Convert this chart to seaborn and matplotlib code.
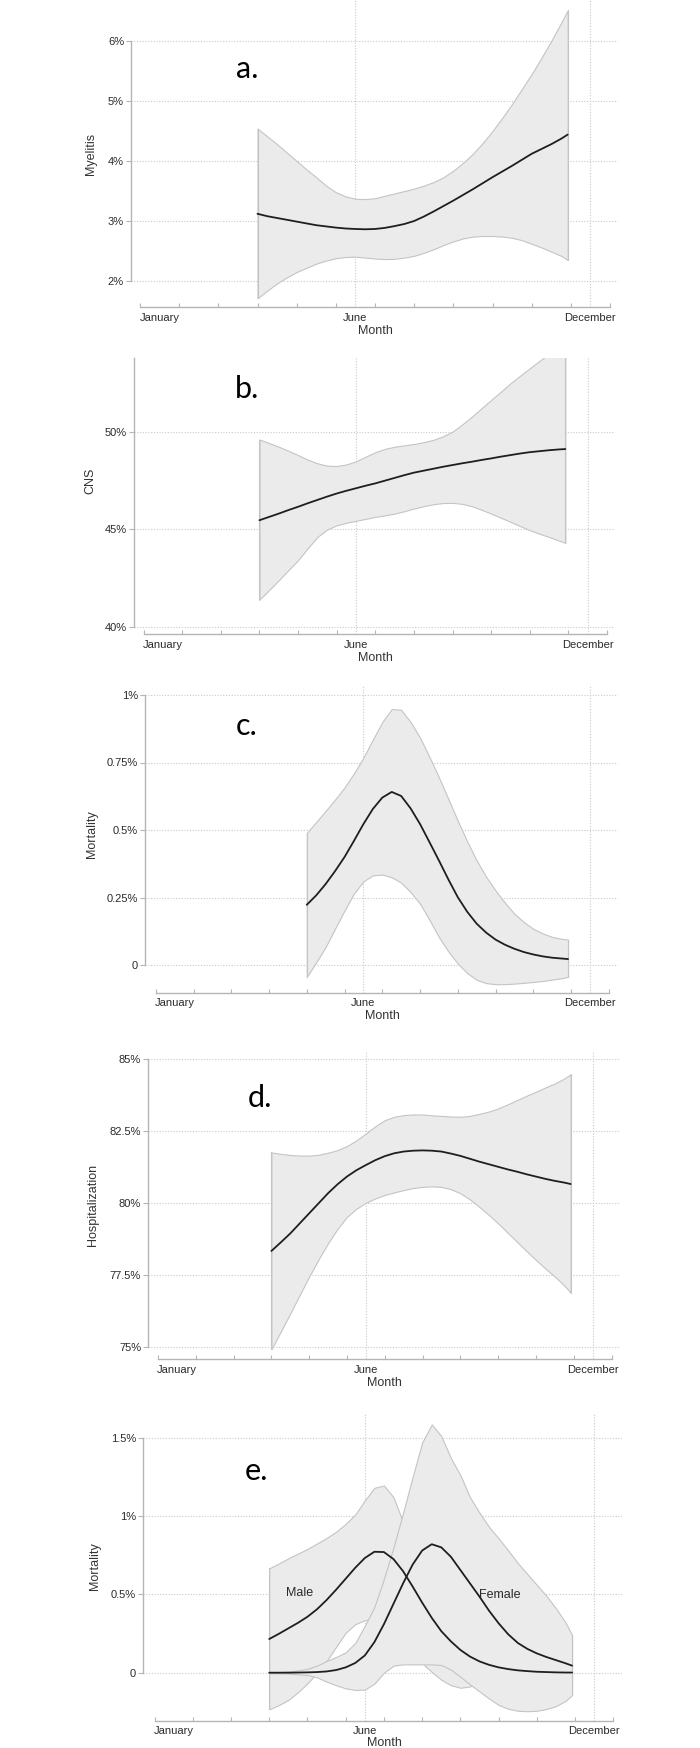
import matplotlib
matplotlib.use("Agg")
import matplotlib.pyplot as plt
import numpy as np
import pandas as pd
import seaborn as sns
from matplotlib.ticker import FixedLocator, FuncFormatter

# ---------------- data (values in percent) ----------------
month_tick_labels = ["January", "June", "December"]
month_label_pos = [0.5, 5.5, 11.5]
month_bounds = [0, 1, 2, 3, 4, 5, 6, 7, 8, 9, 10, 11, 12]

x_apr = [3, 3.25, 3.5, 3.75, 4, 4.25, 4.5, 4.75, 5, 5.25, 5.5, 5.75, 6, 6.25, 6.5, 6.75,
         7, 7.25, 7.5, 7.75, 8, 8.25, 8.5, 8.75, 9, 9.25, 9.5, 9.75, 10, 10.25, 10.5, 10.75, 10.92]
x_may = [4, 4.25, 4.5, 4.75, 5, 5.25, 5.5, 5.75, 6, 6.25, 6.5, 6.75,
         7, 7.25, 7.5, 7.75, 8, 8.25, 8.5, 8.75, 9, 9.25, 9.5, 9.75, 10, 10.25, 10.5, 10.75, 10.92]

# a. Myelitis
a_mean = [3.12, 3.08, 3.05, 3.02, 2.99, 2.96, 2.93, 2.91, 2.89, 2.875, 2.867, 2.862, 2.867, 2.885, 2.915, 2.95,
          3.0, 3.075, 3.16, 3.25, 3.34, 3.435, 3.53, 3.63, 3.73, 3.825, 3.92, 4.02, 4.12, 4.2, 4.28, 4.37, 4.44]
a_upper = [4.54, 4.41, 4.28, 4.14, 4.0, 3.86, 3.73, 3.59, 3.48, 3.41, 3.37, 3.365, 3.38, 3.42, 3.46, 3.50,
           3.54, 3.59, 3.65, 3.73, 3.84, 3.97, 4.12, 4.3, 4.5, 4.72, 4.95, 5.2, 5.45, 5.72, 6.0, 6.3, 6.51]
a_lower = [1.71, 1.84, 1.96, 2.06, 2.15, 2.22, 2.29, 2.34, 2.38, 2.40, 2.405, 2.39, 2.375, 2.365, 2.37, 2.39,
           2.42, 2.47, 2.53, 2.6, 2.66, 2.71, 2.74, 2.75, 2.75, 2.74, 2.72, 2.68, 2.62, 2.56, 2.49, 2.42, 2.35]
a_yticks = [2, 3, 4, 5, 6]

# b. CNS
b_mean = [45.46, 45.63, 45.8, 45.98, 46.15, 46.33, 46.5, 46.67, 46.83, 46.97, 47.1, 47.23, 47.35, 47.49, 47.63, 47.77,
          47.9, 48.0, 48.1, 48.2, 48.29, 48.38, 48.46, 48.55, 48.63, 48.72, 48.8, 48.88, 48.95, 49.0, 49.05, 49.09, 49.11]
b_upper = [49.6, 49.42, 49.23, 49.02, 48.8, 48.57, 48.38, 48.26, 48.24, 48.32, 48.48, 48.72, 48.95, 49.12, 49.23, 49.3,
           49.37, 49.46, 49.58, 49.76, 50.0, 50.37, 50.77, 51.2, 51.63, 52.05, 52.48, 52.87, 53.25, 53.63, 54.0, 54.35, 54.6]
b_lower = [41.39, 41.88, 42.38, 42.9, 43.41, 44.02, 44.6, 44.98, 45.2, 45.33, 45.43, 45.53, 45.63, 45.71, 45.8, 45.92,
           46.06, 46.18, 46.28, 46.34, 46.35, 46.3, 46.18, 46.0, 45.8, 45.59, 45.38, 45.16, 44.95, 44.77, 44.6, 44.42, 44.3]
b_yticks = [40, 45, 50]

# c. Mortality
c_mean = [0.223, 0.258, 0.30, 0.348, 0.40, 0.46, 0.522, 0.578, 0.62, 0.641, 0.626, 0.58,
          0.522, 0.455, 0.387, 0.317, 0.251, 0.197, 0.153, 0.12, 0.094, 0.075, 0.06, 0.048, 0.039, 0.032, 0.027, 0.024, 0.022]
c_upper = [0.489, 0.53, 0.571, 0.613, 0.658, 0.71, 0.768, 0.835, 0.9, 0.948, 0.945, 0.9,
           0.842, 0.77, 0.695, 0.615, 0.534, 0.457, 0.387, 0.327, 0.276, 0.23, 0.19, 0.159, 0.134, 0.117, 0.104, 0.097, 0.094]
c_lower = [-0.044, 0.01, 0.067, 0.135, 0.202, 0.265, 0.31, 0.332, 0.335, 0.325, 0.305, 0.27,
           0.227, 0.167, 0.103, 0.05, 0.005, -0.03, -0.055, -0.067, -0.071, -0.071, -0.069, -0.066, -0.063, -0.059, -0.054, -0.049, -0.044]
c_yticks = [0, 0.25, 0.5, 0.75, 1]

# d. Hospitalization
d_mean = [78.33, 78.63, 78.94, 79.29, 79.64, 79.99, 80.34, 80.65, 80.92, 81.14, 81.32, 81.49, 81.63, 81.73, 81.79, 81.82,
          81.83, 81.82, 81.79, 81.72, 81.64, 81.54, 81.44, 81.35, 81.26, 81.17, 81.09, 81.0, 80.92, 80.84, 80.77, 80.71, 80.66]
d_upper = [81.76, 81.71, 81.67, 81.65, 81.65, 81.68, 81.75, 81.84, 81.98, 82.18, 82.42, 82.67, 82.88, 83.0, 83.06, 83.08,
           83.08, 83.05, 83.03, 83.01, 83.0, 83.03, 83.1, 83.18, 83.29, 83.43, 83.58, 83.73, 83.87, 84.02, 84.16, 84.33, 84.48]
d_lower = [74.91, 75.53, 76.16, 76.8, 77.44, 78.04, 78.6, 79.1, 79.52, 79.8, 80.01, 80.16, 80.28, 80.37, 80.45, 80.52,
           80.56, 80.58, 80.56, 80.48, 80.34, 80.13, 79.87, 79.59, 79.29, 78.97, 78.65, 78.33, 78.02, 77.72, 77.44, 77.13, 76.88]
d_yticks = [75, 77.5, 80, 82.5, 85]

# e. Mortality by sex
e_male_mean = [0.215, 0.248, 0.283, 0.318, 0.357, 0.405, 0.464, 0.53, 0.60, 0.67, 0.732, 0.772, 0.77, 0.725, 0.648, 0.55,
               0.447, 0.35, 0.265, 0.2, 0.145, 0.103, 0.072, 0.05, 0.034, 0.023, 0.015, 0.01, 0.006, 0.004, 0.002, 0.001, 0.001]
e_male_upper = [0.666, 0.697, 0.73, 0.76, 0.79, 0.825, 0.86, 0.90, 0.95, 1.01, 1.10, 1.18, 1.195, 1.12, 0.96, 0.8,
                0.68, 0.56, 0.45, 0.35, 0.27, 0.2, 0.14, 0.1, 0.07, 0.05, 0.035, 0.024, 0.015, 0.01, 0.006, 0.004, 0.003]
e_male_lower = [-0.234, -0.207, -0.174, -0.125, -0.068, 0.0, 0.075, 0.165, 0.255, 0.31, 0.335, 0.345, 0.315, 0.25, 0.187, 0.12,
                0.06, 0.005, -0.045, -0.08, -0.096, -0.088, -0.05, -0.015, 0.0, 0.0, 0.0, 0.0, 0.0, 0.0, 0.0, 0.0, 0.0]
e_female_mean = [0.0, 0.0, 0.0, 0.001, 0.002, 0.004, 0.008, 0.017, 0.034, 0.062, 0.11, 0.195, 0.31, 0.44, 0.57, 0.69,
                 0.78, 0.82, 0.80, 0.74, 0.655, 0.57, 0.485, 0.395, 0.315, 0.245, 0.19, 0.152, 0.123, 0.1, 0.08, 0.06, 0.045]
e_female_upper = [0.003, 0.005, 0.008, 0.014, 0.025, 0.045, 0.075, 0.1, 0.13, 0.19, 0.3, 0.42, 0.6, 0.8, 1.02, 1.25,
                  1.47, 1.585, 1.51, 1.37, 1.26, 1.12, 1.02, 0.93, 0.857, 0.78, 0.70, 0.63, 0.56, 0.49, 0.41, 0.32, 0.24]
e_female_lower = [-0.003, -0.004, -0.006, -0.01, -0.015, -0.03, -0.057, -0.08, -0.1, -0.11, -0.108, -0.07, 0.0, 0.045, 0.053, 0.053,
                  0.053, 0.053, 0.049, 0.02, -0.026, -0.075, -0.12, -0.165, -0.206, -0.23, -0.243, -0.246, -0.243, -0.232, -0.213, -0.18, -0.143]
e_yticks = [0, 0.5, 1, 1.5]

# ---------------- style ----------------
sns.set_style("white")
plt.rcParams["font.family"] = ["Liberation Sans", "DejaVu Sans"]

W, H = 700, 1748
fig = plt.figure(figsize=(W / 100, H / 100), dpi=100)

BAND = "#ebebeb"
BAND_EDGE = "#c4c4c4"
LINE = "#1e1e1e"
GRID = "#c9c9c9"
AXIS = "#b5b5b5"
TXT = "#2a2a2a"


def fmt_pct(v, _=None):
    if abs(v) < 1e-9:
        return "0"
    return ("%g" % v) + "%"


def make_axes(geo):
    left, right, top, bottom = geo["left"], geo["right"], geo["top"], geo["bottom"]
    ax = fig.add_axes([left / W, 1 - bottom / H, (right - left) / W, (bottom - top) / H])
    unit = (geo["xr"] - geo["xl"]) / 12.0
    ax.set_xlim(-(geo["xl"] - left) / unit, 12 + (right - geo["xr"]) / unit)
    y0, py0, y1, py1 = geo["ycal"]
    scale = (py0 - py1) / (y1 - y0)  # px per unit
    ax.set_ylim(y0 - (bottom - py0) / scale, y0 + (py0 - top) / scale)
    return ax


def style_axes(ax, geo, yticks, ylabel, ytop_bound):
    for s in ["top", "right"]:
        ax.spines[s].set_visible(False)
    for s in ["left", "bottom"]:
        ax.spines[s].set_color(AXIS)
        ax.spines[s].set_linewidth(1.0)
    ax.spines["left"].set_bounds(yticks[0], ytop_bound)
    ax.spines["bottom"].set_bounds(0, 12)
    ax.set_yticks(yticks)
    ax.yaxis.set_major_formatter(FuncFormatter(fmt_pct))
    ax.tick_params(axis="y", which="major", direction="out", length=3.5, width=0.8,
                   color=AXIS, labelsize=8, labelcolor=TXT, pad=1.5, left=True)
    ax.xaxis.set_major_locator(FixedLocator(month_label_pos))
    ax.set_xticklabels(month_tick_labels)
    ax.xaxis.set_minor_locator(FixedLocator(month_bounds))
    ax.tick_params(axis="x", which="major", length=0, labelsize=8, labelcolor=TXT, pad=4)
    ax.tick_params(axis="x", which="minor", direction="in", length=3, width=0.8,
                   color=AXIS, bottom=True)
    ax.grid(False)
    for yt in yticks:
        ax.axhline(yt, color=GRID, lw=0.8, ls=(0, (1, 1.5)), zorder=0.5)
    for xv in [5.5, 11.5]:
        ax.axvline(xv, color=GRID, lw=0.8, ls=(0, (1, 1.5)), zorder=0.5)
    L, R, T, B = geo["left"], geo["right"], geo["top"], geo["bottom"]
    ax.set_ylabel(ylabel, fontsize=9, color="#333333")
    ax.yaxis.label.set_va("center")
    ax.yaxis.set_label_coords((geo["ylab"][0] - L) / (R - L), (B - geo["ylab"][1]) / (B - T))
    ax.set_xlabel("Month", fontsize=9, color="#333333")
    ax.xaxis.label.set_va("center")
    ax.xaxis.set_label_coords((geo["xlab"][0] - L) / (R - L), (B - geo["xlab"][1]) / (B - T))


def band(ax, x, lo, hi):
    ax.fill_between(x, lo, hi, facecolor=BAND, edgecolor=BAND_EDGE, linewidth=0.8, zorder=2)
    ax.plot([x[0], x[0]], [lo[0], hi[0]], color=BAND_EDGE, lw=0.8, zorder=2.1)
    ax.plot([x[-1], x[-1]], [lo[-1], hi[-1]], color=BAND_EDGE, lw=0.8, zorder=2.1)


def panel_label(txt, px, py):
    fig.text(px / W, 1 - py / H, txt, fontsize=22, family=["Lato", "DejaVu Sans"],
             ha="left", va="baseline", color="#000000")


geos = {
    "a": dict(left=131, right=618, top=0, bottom=307, xl=140, xr=610,
              ycal=(2, 281, 6, 41), ylab=(91, 154), xlab=(375, 331.5)),
    "b": dict(left=134, right=615, top=358, bottom=634, xl=143.6, xr=607,
              ycal=(40, 626.7, 50, 431.7), ylab=(90, 481), xlab=(375, 658)),
    "c": dict(left=145, right=618, top=685, bottom=992.7, xl=155.8, xr=608.8,
              ycal=(0, 965, 1, 695), ylab=(92, 834), xlab=(382, 1016)),
    "d": dict(left=148, right=620, top=1050.7, bottom=1359.3, xl=158, xr=611.5,
              ycal=(75, 1346.7, 85, 1059.3), ylab=(93, 1205), xlab=(384, 1382.7)),
    "e": dict(left=143, right=622, top=1412.7, bottom=1720.7, xl=154.5, xr=613.4,
              ycal=(0, 1672.7, 1.5, 1437.7), ylab=(95, 1566), xlab=(384, 1743)),
}

single = [
    ("a", x_apr, a_mean, a_lower, a_upper, a_yticks, "Myelitis", None),
    ("b", x_apr, b_mean, b_lower, b_upper, b_yticks, "CNS", "top"),
    ("c", x_may, c_mean, c_lower, c_upper, c_yticks, "Mortality", None),
    ("d", x_apr, d_mean, d_lower, d_upper, d_yticks, "Hospitalization", None),
]

for key, x, m, lo, hi, yt, ylab, topmode in single:
    g = geos[key]
    ax = make_axes(g)
    band(ax, x, lo, hi)
    df = pd.DataFrame({"month": x, "value": m})
    sns.lineplot(data=df, x="month", y="value", ax=ax, color=LINE, lw=1.3, zorder=3,
                 estimator=None, sort=False)
    ytop = ax.get_ylim()[1] if topmode == "top" else yt[-1]
    style_axes(ax, g, yt, ylab, ytop)

# panel e
g = geos["e"]
ax = make_axes(g)
band(ax, x_apr, e_male_lower, e_male_upper)
band(ax, x_apr, e_female_lower, e_female_upper)
df_e = pd.DataFrame({
    "month": x_apr + x_apr,
    "value": e_male_mean + e_female_mean,
    "sex": ["Male"] * len(x_apr) + ["Female"] * len(x_apr),
})
sns.lineplot(data=df_e, x="month", y="value", hue="sex", ax=ax,
             palette={"Male": LINE, "Female": LINE}, lw=1.3, zorder=3,
             estimator=None, sort=False, legend=False)
style_axes(ax, g, e_yticks, "Mortality", e_yticks[-1])
L, R, T, B = g["left"], g["right"], g["top"], g["bottom"]
ax.text((300 - L) / (R - L), (B - 1593) / (B - T), "Male", transform=ax.transAxes,
        fontsize=9, color=TXT, ha="center", va="center", zorder=4)
ax.text((500 - L) / (R - L), (B - 1595.5) / (B - T), "Female", transform=ax.transAxes,
        fontsize=9, color=TXT, ha="center", va="center", zorder=4)

panel_label("a.", 236, 78)
panel_label("b.", 235, 398)
panel_label("c.", 236, 735)
panel_label("d.", 247.5, 1107)
panel_label("e.", 245, 1480)

fig.savefig("out.png", dpi=100, facecolor="white")
